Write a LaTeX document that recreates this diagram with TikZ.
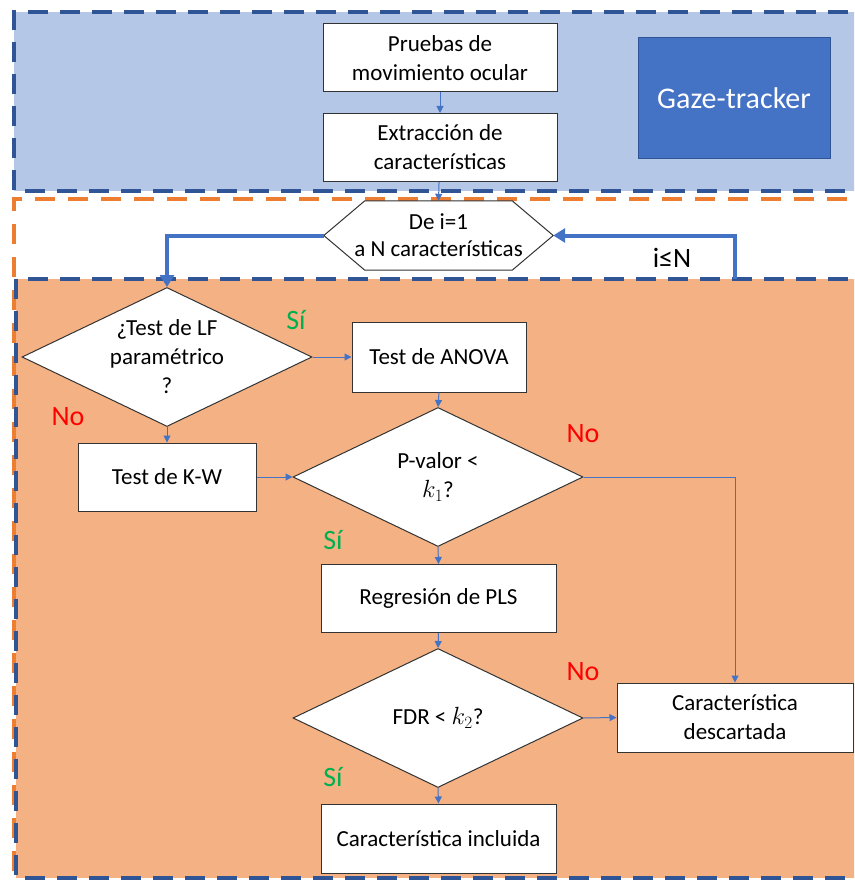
\documentclass[tikz,border=0pt]{standalone}
\usepackage{fontspec}
\setmainfont{Carlito}
\usetikzlibrary{arrows.meta,shapes.geometric,calc}

\definecolor{zoneblue}{HTML}{B4C7E7}
\definecolor{edgeblue}{HTML}{2F5597}
\definecolor{edgeorange}{HTML}{ED7D31}
\definecolor{zoneorange}{HTML}{F4B183}
\definecolor{linkblue}{HTML}{4472C4}
\definecolor{yesgreen}{HTML}{00B050}
\definecolor{nored}{HTML}{FF0000}

\tikzset{
  boxfont/.style={font=\fontsize{23}{29}\selectfont},
  procbox/.style={draw=black!80, line width=1pt, fill=white, minimum width=234pt,
    minimum height=68pt, align=center, inner sep=0pt, boxfont},
  decision/.style={diamond, draw=black!80, line width=1pt, fill=white,
    minimum width=290pt, minimum height=139pt, inner sep=0pt,
    label={[align=center, boxfont]center:#1}},
  link/.style={draw=linkblue, line width=1pt, -{Triangle[length=7pt,width=7pt]}},
  looplink/.style={draw=linkblue, line width=4pt, -{Triangle[length=12pt,width=14pt]}},
  yeslabel/.style={text=yesgreen, font=\fontsize{28}{28}\selectfont},
  nolabel/.style={text=nored, font=\fontsize{28}{28}\selectfont},
  blueedge/.style={draw=edgeblue, line width=4pt, dash pattern=on 20pt off 12pt},
  orangeedge/.style={draw=edgeorange, line width=3.5pt, dash pattern=on 20pt off 13pt},
}

\begin{document}
\begin{tikzpicture}[x=1pt, y=-1pt]
\useasboundingbox (0,0) rectangle (854,880);
\clip (0,0) rectangle (854,880);

% Acquisition zone
\path[fill=zoneblue] (14,12) rectangle (880,191);
\draw[blueedge] (880,12) -- (14,12) -- (14,191) -- (880,191);

% Per-feature zone
\path[fill=zoneorange] (16,279) rectangle (880,878);
\draw[orangeedge] (880,199) -- (14,199) -- (14,900);
\draw[blueedge] (880,279) -- (16,279) -- (16,878) -- (880,878);

% Acquisition steps
\node[procbox] (pruebas) at (440,58) {Pruebas de\\movimiento ocular};
\node[procbox] (extraccion) at (440,147.5) {Extracción de\\características};
\node[draw=edgeblue, line width=1pt, fill=linkblue, minimum width=192pt,
  minimum height=120pt, text=white, font=\fontsize{30}{30}\selectfont]
  (gaze) at (734,98) {Gaze-tracker};

% Loop header (hexagon)
\node[minimum width=229pt, minimum height=69pt, inner sep=0pt] (bucle) at (438.5,235.5) {};
\draw[draw=black!80, line width=1pt, fill=white]
  (bucle.west) -- ($(bucle.north west)+(41,0)$) -- ($(bucle.north east)+(-41,0)$)
  -- (bucle.east) -- ($(bucle.south east)+(-41,0)$) -- ($(bucle.south west)+(41,0)$) -- cycle;
\node[align=center, font=\fontsize{23}{27}\selectfont] (buclelbl) at (bucle) {De i=1\\a N características};

% Decisions and tests
\node[decision={¿Test de LF\\paramétrico\\?}] (lf) at (167,357) {};
\node[procbox, minimum width=174pt, minimum height=70pt] (anova) at (439,357) {Test de ANOVA};
\node[procbox, minimum width=178pt] (kw) at (167,477) {Test de K-W};
\node[decision={P-valor <\\$k_1$?}] (pval) at (438,477) {};
\node[procbox, minimum width=235pt] (pls) at (438.5,598.5) {Regresión de PLS};
\node[decision={FDR < $k_2$?}] (fdr) at (438,718) {};
\node[procbox, minimum width=236pt, minimum height=69pt] (descartada) at (735,717.5) {Característica\\descartada};
\node[procbox, minimum width=235pt, minimum height=69pt] (incluida) at (438.5,838.5) {Característica incluida};

% Branch labels
\node[yeslabel] (si1) at (296,320) {Sí};
\node[nolabel] (no1) at (68,417) {No};
\node[nolabel] (no2) at (583,434) {No};
\node[yeslabel] (si2) at (333,540) {Sí};
\node[nolabel] (no3) at (583,672) {No};
\node[yeslabel] (si3) at (333,777) {Sí};
\node[font=\fontsize{28}{28}\selectfont] (leq) at (672,258) {i≤N};

% Connectors
\draw[link] (pruebas) -- (extraccion);
\draw[link] (extraccion) -- (bucle.north);
\draw[link] (lf.east) -- (anova.west);
\draw[link] (lf.south) -- (lf.south |- kw.north);
\draw[link] (anova.south) -- (pval.north);
\draw[link] (kw.east) -- (pval.west);
\draw[link] (pval.south) -- (pls.north);
\draw[link] (pval.east) -| (descartada.north);
\draw[link] (pls.south) -- (fdr.north);
\draw[link] (fdr.east) -- (descartada.west);
\draw[link] (fdr.south) -- (incluida.north);

% Loop back
\coordinate (vuelta) at (735,279);
\draw[looplink] (bucle.west) -| (lf.north);
\draw[looplink] (vuelta) |- (bucle.east);
\end{tikzpicture}
\end{document}
